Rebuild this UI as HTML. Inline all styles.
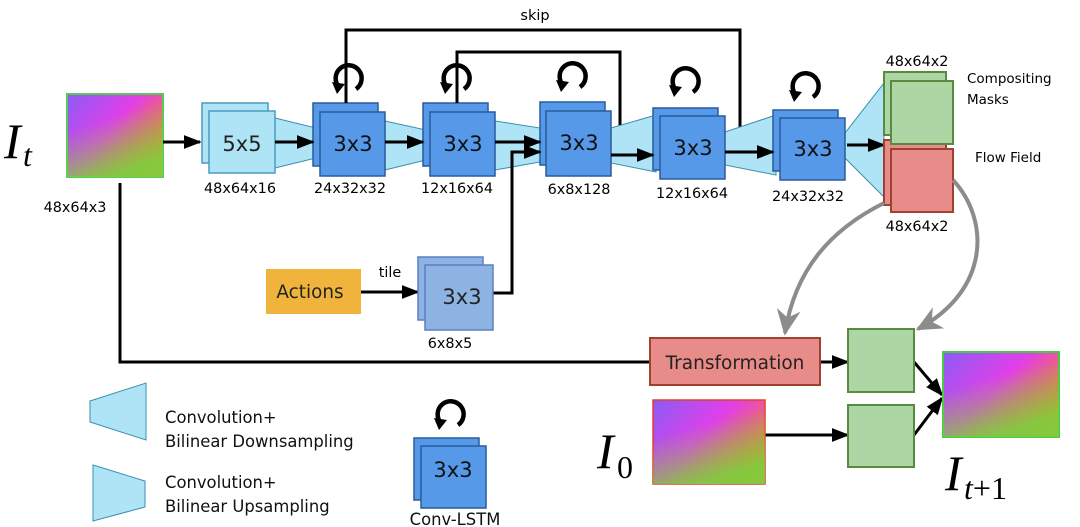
<!DOCTYPE html>
<html><head><meta charset="utf-8"><style>
html,body{margin:0;padding:0;background:#fff;}
svg{display:block;font-family:"DejaVu Sans","Liberation Sans",sans-serif;}
</style></head><body>
<svg width="1080" height="527" viewBox="0 0 1080 527" xmlns="http://www.w3.org/2000/svg">
<defs>
<marker id="a" viewBox="0 0 10 10" refX="9" refY="5" markerWidth="18" markerHeight="14" orient="auto" markerUnits="userSpaceOnUse" preserveAspectRatio="none"><path d="M0,0 L10,5 L0,10 z" fill="#000"/></marker>
<marker id="g" viewBox="0 0 10 10" refX="9" refY="5" markerWidth="26" markerHeight="24" orient="auto" markerUnits="userSpaceOnUse" preserveAspectRatio="none"><path d="M0,0 L10,5 L0,10 L3,5 z" fill="#8c8c8c"/></marker>
<linearGradient id="im1" x1="0" y1="0" x2="1" y2="0.7"><stop offset="0" stop-color="#8a5cf5"/><stop offset="0.5" stop-color="#e040e8"/><stop offset="1" stop-color="#ff7a20"/></linearGradient>
<linearGradient id="im2" x1="0" y1="0" x2="0.4" y2="1"><stop offset="0.4" stop-color="#7ad040" stop-opacity="0"/><stop offset="1" stop-color="#7ad040" stop-opacity="0.9"/></linearGradient>
<g id="loop"><path d="M-9,9 A13,13 0 1 1 8,11" fill="none" stroke="#000" stroke-width="4.5"/><path d="M-16,4 L-3,6 L-11,16 z" fill="#000"/></g>
</defs>

<polyline points="346,103 346,30 740,30 740,136 768,136" fill="none" stroke="#000" stroke-width="3" marker-end="url(#a)"/>
<text x="535" y="20" font-size="14.5" text-anchor="middle">skip</text>
<polyline points="457,103 457,52 620,52 620,135 650,135" fill="none" stroke="#000" stroke-width="3" marker-end="url(#a)"/>

<rect x="67" y="94" width="96" height="83" fill="url(#im1)" stroke="#5c5" stroke-width="2"/>
<rect x="67" y="94" width="96" height="83" fill="url(#im2)"/>
<text x="4" y="158" font-family="Liberation Serif,serif" font-style="italic" font-size="50">I</text>
<text x="23" y="166" font-family="Liberation Serif,serif" font-style="italic" font-size="32">t</text>
<text x="75" y="212" font-size="14.4" text-anchor="middle">48x64x3</text>
<line x1="163" y1="142" x2="200" y2="142" stroke="#000" stroke-width="3" marker-end="url(#a)"/>

<g fill="#aee4f5" stroke="#3a8fb0" stroke-width="1">
<polygon points="275,118 316,128 316,158 275,168"/>
<polygon points="385,121 426,130 426,160 385,170"/>
<polygon points="495,121 540,128 540,162 495,170"/>
<polygon points="611,128 656,115 656,172 611,163"/>
<polygon points="725,132 776,115 776,175 725,165"/>
<polygon points="845,133 884,83 884,197 845,158"/>
<polygon points="90,401 146,383 146,440 90,422"/>
<polygon points="93,465 145,481 145,507 93,521"/>
</g>

<rect x="202" y="103" width="66" height="60" fill="#aee4f5" stroke="#4b9cc0" stroke-width="1.5"/>
<rect x="209" y="111" width="66" height="62" fill="#aee4f5" stroke="#4b9cc0" stroke-width="1.5"/>
<text x="242" y="151" font-size="21" text-anchor="middle" fill="#222">5x5</text>
<text x="240" y="193" font-size="14.4" text-anchor="middle">48x64x16</text>

<g fill="#5599e8" stroke="#2a5a9a" stroke-width="1.5">
<rect x="313" y="103" width="65" height="63"/><rect x="320" y="112" width="65" height="64"/>
<rect x="423" y="103" width="65" height="63"/><rect x="430" y="112" width="65" height="64"/>
<rect x="540" y="102" width="65" height="63"/><rect x="546" y="111" width="65" height="65"/>
<rect x="653" y="108" width="65" height="62"/><rect x="660" y="116" width="65" height="63"/>
<rect x="773" y="110" width="65" height="61"/><rect x="780" y="118" width="65" height="62"/>
<rect x="414" y="438" width="65" height="62"/><rect x="421" y="446" width="65" height="62"/>
</g>
<g font-size="21" text-anchor="middle" fill="#111">
<text x="353" y="151">3x3</text><text x="463" y="151">3x3</text><text x="579" y="150">3x3</text>
<text x="693" y="155">3x3</text><text x="813" y="156">3x3</text><text x="453" y="477">3x3</text>
</g>
<g font-size="14.4" text-anchor="middle">
<text x="350" y="193">24x32x32</text><text x="457" y="193">12x16x64</text><text x="579" y="194">6x8x128</text>
<text x="692" y="198">12x16x64</text><text x="808" y="201">24x32x32</text>
</g>
<use href="#loop" x="348" y="78"/><use href="#loop" x="456" y="78"/><use href="#loop" x="572" y="76"/>
<use href="#loop" x="685" y="81"/><use href="#loop" x="805" y="86"/><use href="#loop" x="450" y="414"/>
<line x1="346" y1="103" x2="346" y2="70" stroke="#000" stroke-width="3"/>
<line x1="457" y1="103" x2="457" y2="70" stroke="#000" stroke-width="3"/>

<g stroke="#000" stroke-width="3">
<line x1="275" y1="142" x2="313" y2="142" marker-end="url(#a)"/>
<line x1="385" y1="142" x2="423" y2="142" marker-end="url(#a)"/>
<line x1="495" y1="142" x2="540" y2="142" marker-end="url(#a)"/>
<line x1="611" y1="155" x2="653" y2="155" marker-end="url(#a)"/>
<line x1="725" y1="152" x2="773" y2="152" marker-end="url(#a)"/>
<line x1="847" y1="145" x2="884" y2="145" marker-end="url(#a)"/>
<polyline points="493,293 512,293 512,152 540,152" fill="none" marker-end="url(#a)"/>
<line x1="361" y1="292" x2="418" y2="292" marker-end="url(#a)"/>
<polyline points="120,183 120,362 650,362" fill="none"/>
<line x1="820" y1="362" x2="848" y2="362" marker-end="url(#a)"/>
<line x1="765" y1="435" x2="848" y2="435" marker-end="url(#a)"/>
<line x1="914" y1="362" x2="942" y2="395" marker-end="url(#a)"/>
<line x1="914" y1="435" x2="942" y2="398" marker-end="url(#a)"/>
</g>

<rect x="884" y="72" width="62" height="63" fill="#acd6a4" stroke="#5a8a40" stroke-width="2"/>
<rect x="884" y="140" width="62" height="65" fill="#e88c8a" stroke="#a04030" stroke-width="2"/>
<rect x="891" y="81" width="62" height="63" fill="#acd6a4" stroke="#5a8a40" stroke-width="2"/>
<rect x="891" y="149" width="62" height="63" fill="#e88c8a" stroke="#a04030" stroke-width="2"/>
<text x="917" y="66" font-size="14.4" text-anchor="middle">48x64x2</text>
<text x="917" y="231" font-size="14.4" text-anchor="middle">48x64x2</text>
<text x="967" y="83" font-size="13.5">Compositing</text>
<text x="967" y="104" font-size="13.5">Masks</text>
<text x="975" y="162" font-size="13.5">Flow Field</text>

<path d="M884,203 C830,230 795,270 785,333" fill="none" stroke="#8c8c8c" stroke-width="4" marker-end="url(#g)"/>
<path d="M953,180 C990,220 990,290 918,329" fill="none" stroke="#8c8c8c" stroke-width="4" marker-end="url(#g)"/>

<rect x="266" y="269" width="95" height="45" fill="#f0b43c"/>
<text x="310" y="298" font-size="18.4" text-anchor="middle" fill="#222">Actions</text>
<text x="390" y="277" font-size="14.4" text-anchor="middle">tile</text>
<rect x="418" y="257" width="65" height="63" fill="#8db3e2" stroke="#5a7ec0" stroke-width="1.5"/>
<rect x="425" y="265" width="68" height="65" fill="#8db3e2" stroke="#5a7ec0" stroke-width="1.5"/>
<text x="462" y="304" font-size="21" text-anchor="middle" fill="#222">3x3</text>
<text x="450" y="348" font-size="14.4" text-anchor="middle">6x8x5</text>

<rect x="650" y="338" width="170" height="47" fill="#e88c8a" stroke="#a04030" stroke-width="2"/>
<text x="735" y="369" font-size="18.5" text-anchor="middle" fill="#222">Transformation</text>
<rect x="848" y="329" width="66" height="63" fill="#acd6a4" stroke="#5a8a40" stroke-width="2"/>
<rect x="848" y="405" width="66" height="62" fill="#acd6a4" stroke="#5a8a40" stroke-width="2"/>

<rect x="653" y="400" width="112" height="84" fill="url(#im1)" stroke="#e04030" stroke-width="1.5"/>
<rect x="653" y="400" width="112" height="84" fill="url(#im2)"/>
<text x="597" y="468" font-family="Liberation Serif,serif" font-style="italic" font-size="50">I</text>
<text x="617" y="478" font-family="Liberation Serif,serif" font-size="32">0</text>

<rect x="943" y="352" width="116" height="85" fill="url(#im1)" stroke="#4c4" stroke-width="2"/>
<rect x="943" y="352" width="116" height="85" fill="url(#im2)"/>
<text x="945" y="490" font-family="Liberation Serif,serif" font-style="italic" font-size="50">I</text>
<text x="964" y="499" font-family="Liberation Serif,serif" font-size="32"><tspan font-style="italic">t</tspan>+1</text>

<g font-size="16.4" fill="#111">
<text x="165" y="423">Convolution+</text><text x="165" y="447">Bilinear Downsampling</text>
<text x="165" y="488">Convolution+</text><text x="165" y="512">Bilinear Upsampling</text>
<text x="455" y="525" text-anchor="middle">Conv-LSTM</text>
</g>
</svg>
</body></html>
